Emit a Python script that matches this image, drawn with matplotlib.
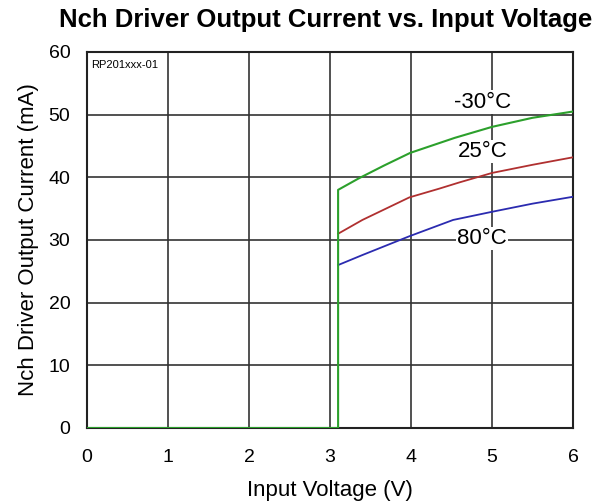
import matplotlib
matplotlib.use("Agg")
import matplotlib.pyplot as plt

plt.rcParams['font.family'] = ['Liberation Sans', 'DejaVu Sans']

# curves (Input Voltage V, current mA)
v_on = 3.1
x_m30 = [0, v_on, v_on, 3.35, 3.67, 3.99, 4.54, 5.0, 5.5, 6.0]
y_m30 = [0, 0, 38.0, 39.8, 41.9, 43.9, 46.3, 48.05, 49.5, 50.5]
x_25 = [v_on, 3.4, 3.98, 4.35, 4.6, 5.0, 5.5, 6.0]
y_25 = [31.0, 33.2, 36.8, 38.2, 39.2, 40.7, 42.0, 43.2]
x_80 = [v_on, 3.4, 3.98, 4.52, 5.0, 5.5, 6.0]
y_80 = [26.0, 27.6, 30.6, 33.2, 34.5, 35.8, 36.9]

fig = plt.figure(figsize=(6.05, 5.04), dpi=100)
ax = fig.add_axes([87 / 605, 76 / 504, 486 / 605, 376 / 504])

ax.plot(x_80, y_80, color='#2b2bb0', lw=1.3, zorder=3)
ax.plot(x_25, y_25, color='#b03030', lw=1.3, zorder=3)
ax.plot(x_m30, y_m30, color='#2ca02c', lw=1.5, zorder=4)

ax.set_xlim(0, 6)
ax.set_ylim(0, 60)
ax.set_xticks(range(0, 7))
ax.set_yticks(range(0, 61, 10))
ax.grid(True, color='#333333', lw=1.2)
ax.set_axisbelow(True)
for s in ax.spines.values():
    s.set_linewidth(1.5)
    s.set_color('#222222')
ax.tick_params(length=0, labelsize=14)
ax.tick_params(axis='x', pad=15)
ax.tick_params(axis='y', pad=12)

lbl = dict(ha='center', va='center', fontsize=16, zorder=5,
           bbox=dict(facecolor='white', edgecolor='none', pad=1.0))
ax.text(4.88, 52.0, '-30\u00b0C', **lbl)
ax.text(4.88, 44.1, '25\u00b0C', **lbl)
ax.text(4.88, 30.25, '80\u00b0C', **lbl)

ax.text(0.05, 58.0, 'RP201xxx-01', fontsize=8, va='center', ha='left',
        clip_on=True, zorder=5)

ax.set_xlabel('Input Voltage (V)', fontsize=16, labelpad=10)
ax.set_ylabel('Nch Driver Output Current (mA)', fontsize=16, labelpad=7)
fig.suptitle('Nch Driver Output Current vs. Input Voltage', fontsize=18.5,
             fontweight='bold', x=326 / 605, y=0.96, va='center')

fig.savefig('out.png', dpi=100)
